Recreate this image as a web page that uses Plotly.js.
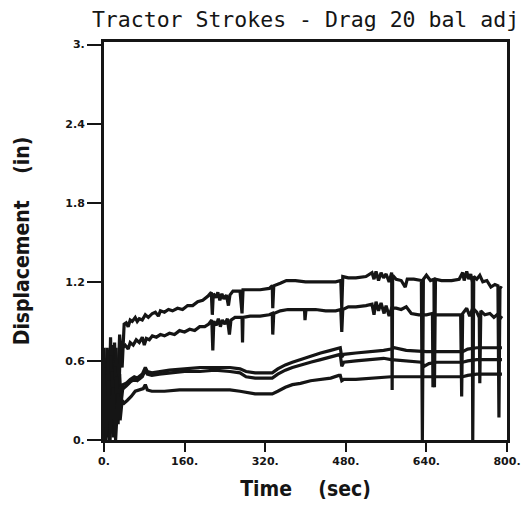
<!DOCTYPE html>
<html>
<head>
<meta charset="utf-8">
<script src="https://cdn.plot.ly/plotly-3.0.1.min.js"></script>
<style>
  html, body { margin: 0; padding: 0; background: #fff; }
  #chart { width: 524px; height: 508px; }
</style>
</head>
<body>
<div id="chart"></div>
<script>
// ---- data ----
const chartTitle = 'Tractor Strokes - Drag 20 bal adj';
const xTitle = 'Time\u00a0\u00a0\u00a0\u00a0(sec)';
const yTitle = 'Displacement\u00a0\u00a0\u00a0\u00a0(in)';

const xTickVals = [0, 160, 320, 480, 640, 800];
const xTickText = ['0.', '160.', '320.', '480.', '640.', '800.'];
const yTickVals = [0, 0.6, 1.2, 1.8, 2.4, 3.0];
const yTickText = ['0.', '0.6', '1.2', '1.8', '2.4', '3.'];

// Stroke A (top)
const tA = [0,3,6,9,13,17,21,26,31,36,40,44,48,52,56,62,66,70,76,82,88,96,102,108,112,120,128,136,146,156,166,176,186,196,206,213,215,217,222,226,230,234,238,243,247,250,256,270,274,276,290,310,328,334,335,337,350,362,380,400,420,440,460,470,472,474,485,500,520,532,536,540,545,550,555,560,566,571,572,573,580,590,598,602,615,630,632,634,640,648,655,656,658,670,690,705,712,715,720,724,728,731,732,734,740,746,752,760,768,776,782,784,786,790];
const yA = [0.58,0.05,0.70,0.02,0.78,0.10,0.74,0.20,0.80,0.55,0.88,0.89,0.86,0.91,0.90,0.93,0.90,0.92,0.91,0.95,0.93,0.96,0.97,0.94,0.98,0.97,0.99,0.98,1.00,0.99,1.02,1.02,1.05,1.06,1.09,1.12,0.95,1.11,1.08,1.12,1.06,1.11,1.07,1.10,1.02,1.10,1.13,1.13,0.96,1.14,1.14,1.14,1.15,1.17,1.00,1.17,1.19,1.21,1.21,1.20,1.20,1.20,1.20,1.21,1.00,1.24,1.23,1.23,1.24,1.27,1.22,1.28,1.21,1.27,1.23,1.26,1.20,1.27,0.38,1.25,1.22,1.21,1.16,1.22,1.22,1.21,0.00,1.22,1.25,1.21,1.22,0.40,1.22,1.21,1.21,1.22,1.27,1.21,1.28,1.22,1.26,1.20,0.00,1.24,1.22,1.25,1.20,1.21,1.16,1.18,1.17,0.17,1.16,1.15];

// Stroke B (second)
const tB = [0,4,8,11,15,19,24,28,32,36,42,48,52,58,64,70,76,80,84,90,96,104,112,120,130,140,150,160,170,180,190,200,208,214,216,218,223,227,231,235,240,245,249,252,260,274,275,276,290,310,328,334,335,337,350,365,385,398,399,401,420,440,460,470,472,474,485,500,520,532,536,540,545,550,556,560,566,571,580,590,600,610,625,640,652,653,655,670,690,708,710,712,720,726,732,740,745,746,748,756,766,774,780,786,790];
const yB = [0.70,0.10,0.66,0.00,0.72,0.05,0.70,0.12,0.68,0.70,0.72,0.69,0.74,0.72,0.76,0.74,0.78,0.72,0.77,0.76,0.79,0.78,0.80,0.79,0.81,0.80,0.83,0.82,0.84,0.83,0.86,0.86,0.88,0.91,0.68,0.90,0.87,0.92,0.86,0.91,0.88,0.92,0.80,0.91,0.93,0.93,0.74,0.93,0.94,0.94,0.95,0.96,0.80,0.96,0.98,0.99,0.99,0.99,0.91,0.99,0.99,0.98,0.98,0.99,0.82,0.99,1.01,1.01,1.02,1.03,0.95,1.05,0.98,1.04,0.96,1.02,0.94,1.00,1.00,0.99,1.01,0.96,0.95,0.95,0.96,0.40,0.95,0.95,0.95,0.95,0.33,0.96,1.00,0.94,1.00,0.97,0.93,0.43,0.98,0.95,0.96,0.93,0.95,0.92,0.94];

// Stroke C1 (third)
const tC1 = [0,3,7,10,14,18,22,27,31,34,38,44,52,60,66,76,82,86,95,110,130,160,190,220,250,270,282,300,320,334,345,360,374,390,410,430,450,466,469,472,476,500,530,555,570,576,600,630,640,660,690,712,722,740,770,790];
const yC1 = [0.62,0.00,0.58,0.05,0.64,0.02,0.56,0.15,0.50,0.28,0.42,0.43,0.46,0.48,0.47,0.50,0.55,0.52,0.51,0.52,0.53,0.54,0.55,0.55,0.55,0.54,0.52,0.51,0.51,0.51,0.54,0.57,0.59,0.61,0.64,0.66,0.68,0.70,0.70,0.63,0.65,0.66,0.67,0.68,0.69,0.70,0.68,0.67,0.67,0.67,0.67,0.67,0.69,0.70,0.70,0.70];

// Stroke C2 (fourth)
const tC2 = [0,4,8,12,16,20,25,29,33,38,44,52,60,66,76,82,86,95,110,130,160,190,220,250,270,282,300,320,334,345,360,374,390,410,430,450,466,469,472,476,500,530,555,570,600,630,636,645,660,690,712,722,740,770,790];
const yC2 = [0.55,0.08,0.60,0.00,0.52,0.10,0.48,0.22,0.40,0.39,0.41,0.44,0.46,0.45,0.48,0.53,0.50,0.49,0.50,0.51,0.52,0.52,0.53,0.52,0.51,0.48,0.47,0.47,0.47,0.50,0.53,0.55,0.57,0.59,0.61,0.63,0.65,0.65,0.56,0.59,0.60,0.61,0.62,0.61,0.60,0.59,0.56,0.58,0.59,0.59,0.59,0.60,0.61,0.61,0.61];

// Stroke D (bottom)
const tD = [0,4,9,13,18,23,28,32,36,40,46,54,62,70,78,82,86,95,120,150,180,220,250,270,282,300,320,334,345,360,374,390,410,430,450,466,469,472,476,500,530,555,570,600,630,660,690,712,722,740,770,790];
const yD = [0.50,0.00,0.45,0.05,0.40,0.00,0.35,0.15,0.30,0.28,0.30,0.33,0.37,0.38,0.39,0.42,0.38,0.37,0.37,0.38,0.38,0.38,0.38,0.37,0.36,0.35,0.35,0.35,0.37,0.40,0.42,0.43,0.45,0.46,0.47,0.49,0.49,0.45,0.46,0.46,0.47,0.48,0.48,0.48,0.48,0.48,0.48,0.48,0.49,0.50,0.50,0.50];

const ink = '#151515';
const series = [[tA, yA], [tB, yB], [tC1, yC1], [tC2, yC2], [tD, yD]];
const traces = series.map(([t, y]) => ({
  x: t, y: y, type: 'scatter', mode: 'lines',
  line: { color: ink, width: 3.2 }, hoverinfo: 'skip', showlegend: false
}));

const tickFont = { family: 'DejaVu Sans', size: 11, color: ink, weight: 'bold' };
const axisTitleFont = { family: 'DejaVu Sans Condensed, DejaVu Sans', size: 21, color: ink, weight: 'bold' };
const layout = {
  width: 524, height: 508,
  margin: { l: 104, r: 17, t: 42, b: 68 },
  paper_bgcolor: '#ffffff', plot_bgcolor: '#ffffff',
  showlegend: false,
  title: {
    text: chartTitle, x: 0.5, xref: 'paper', xanchor: 'center',
    y: 0.962, yref: 'container', yanchor: 'middle',
    font: { family: 'DejaVu Sans Mono', size: 21.5, color: ink }
  },
  xaxis: {
    range: [0, 800], tickvals: xTickVals, ticktext: xTickText,
    ticks: 'outside', ticklen: 9, tickwidth: 2, tickcolor: ink,
    showline: true, mirror: true, linewidth: 3, linecolor: ink,
    showgrid: false, zeroline: false, tickfont: tickFont,
    title: { text: xTitle, standoff: 15, font: axisTitleFont }
  },
  yaxis: {
    range: [0, 3.02], tickvals: yTickVals, ticktext: yTickText,
    ticks: 'outside', ticklen: 14, tickwidth: 2, tickcolor: ink,
    showline: true, mirror: true, linewidth: 3, linecolor: ink,
    showgrid: false, zeroline: false, tickfont: tickFont,
    title: { text: yTitle, standoff: 30, font: axisTitleFont }
  }
};

Plotly.newPlot('chart', traces, layout, { displayModeBar: false, staticPlot: true });
</script>
</body>
</html>
